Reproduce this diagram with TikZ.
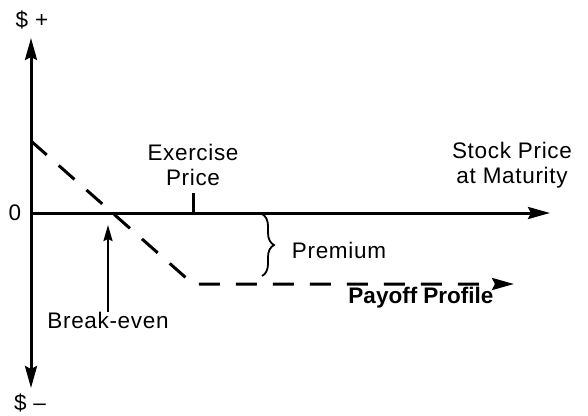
\documentclass[tikz,border=0pt]{standalone}
\usepackage{fontspec}
\setmainfont{Liberation Sans}[LetterSpace=3]
\usetikzlibrary{arrows.meta,decorations.pathreplacing}
\begin{document}
\begin{tikzpicture}[x=1pt,y=-1pt,
  lbl/.style={font=\fontsize{22.5}{25}\selectfont, inner sep=0pt, align=center},
  boldlbl/.style={lbl, font=\fontsize{22.5}{25}\selectfont\bfseries\addfontfeature{LetterSpace=0}},
  axis/.style={line width=3pt, -{Stealth[length=22pt,width=12pt,inset=3pt]}},
  payoff/.style={line width=3pt, dash pattern=on 21pt off 16pt, -{Stealth[length=22pt,width=12pt,inset=3pt]}},
  tick/.style={line width=3pt},
  ptr/.style={line width=2pt, -{Stealth[length=16pt,width=9pt,inset=2pt]}},
  bracestyle/.style={decorate, decoration={brace, amplitude=12pt}, line width=1.8pt},
]
\useasboundingbox (0,0) rectangle (588,415);
% axes
\coordinate (O) at (31,213);
\coordinate (ytop) at (31,38);
\coordinate (ybot) at (31,388);
\coordinate (xend) at (550,213);
\draw[axis] (O) -- (ytop);
\draw[axis] (O) -- (ybot);
\draw[axis] (O) -- (xend);
% exercise tick
\coordinate (exbase) at (193,213);
\coordinate (extop) at (193,193);
\draw[tick] (exbase) -- (extop);
% payoff profile
\coordinate (pstart) at (31,141);
\coordinate (pcorner) at (193,284);
\coordinate (pend) at (514,284);
\draw[payoff] (pstart) -- (pcorner) -- (pend);
% brace
\coordinate (brtop) at (262,214);
\coordinate (brbot) at (262,276);
\draw[bracestyle] (brtop) -- (brbot);
% labels
\node[lbl] (splus) at (32,20) {\$ +};
\node[lbl] (sminus) at (30,403) {\$ \textendash};
\node[lbl] (zero) at (15,213) {0};
\node[lbl] (exlbl) at (193,165) {Exercise\\Price};
\node[lbl] (stock) at (512,165) {Stock Price\\at Maturity};
\node[lbl] (prem) at (339,250) {Premium};
\node[boldlbl] (payofflbl) at (421,298) {Payoff Profile};
\node[lbl] (be) at (108,320) {Break-even};
\coordinate (betip) at (108,225);
\draw[ptr] (be.north) -- (betip);
\end{tikzpicture}
\end{document}
